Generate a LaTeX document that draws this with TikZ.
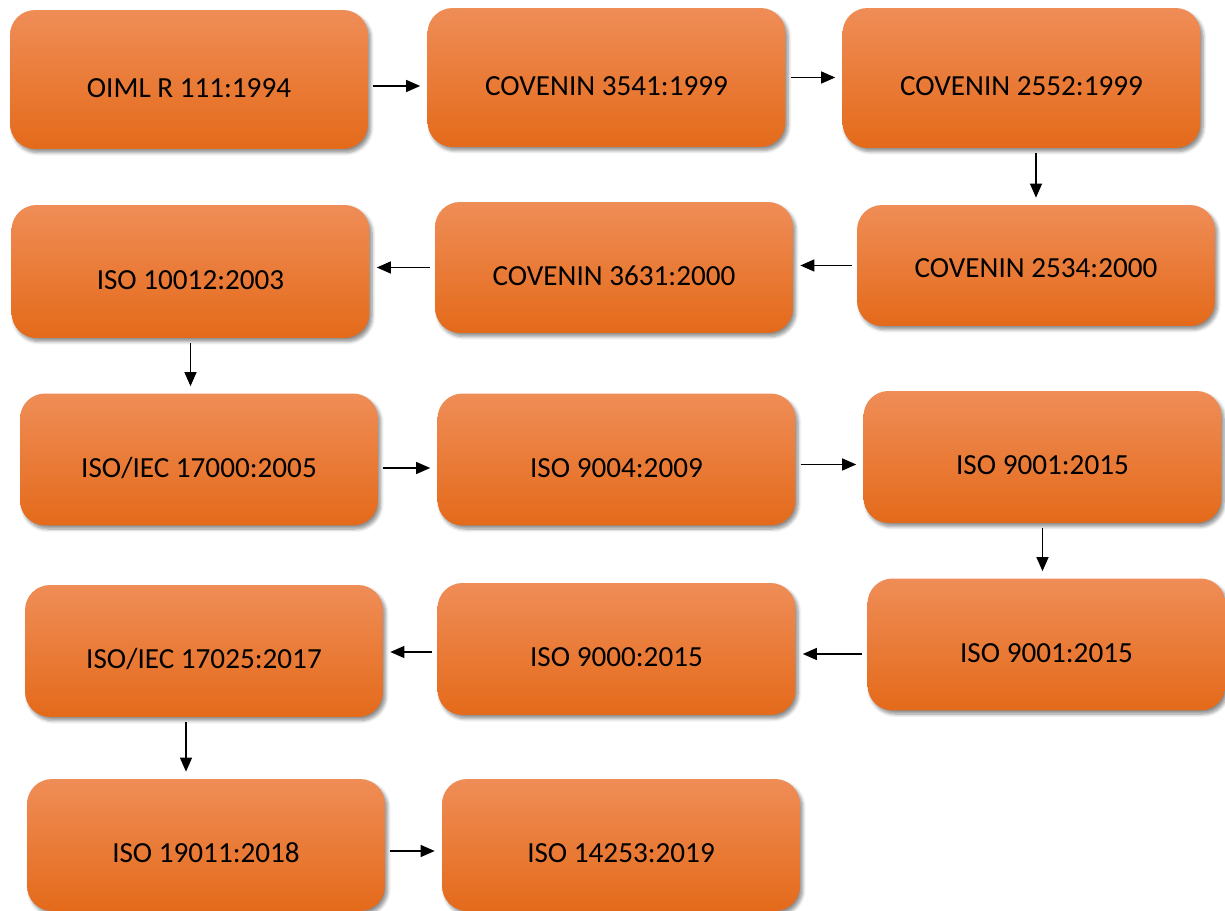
\documentclass[tikz,border=0pt]{standalone}
\usepackage{fontspec}
\setmainfont{Carlito}
\usetikzlibrary{arrows.meta,shadows.blur}

\definecolor{orTop}{HTML}{EF8D57}
\definecolor{orMid}{HTML}{F17A2C}
\definecolor{orBot}{HTML}{E46A1A}

\tikzset{
  normbox/.style={rounded corners=0.5cm, top color=orTop, middle color=orMid, bottom color=orBot,
    minimum width=7.16cm, minimum height=2.64cm, font=\fontsize{16.6}{19}\selectfont, text=black,
    text height=0.72cm, text depth=0cm,
    blur shadow={shadow xshift=1.5pt, shadow yshift=-2pt, shadow blur steps=6, shadow opacity=45}},
  arr/.style={-{Triangle[length=0.28cm,width=0.24cm]}, line width=0.7pt, shorten <=0.1cm, shorten >=0.14cm}
}

\begin{document}
\begin{tikzpicture}[x=0.02cm, y=-0.02cm]
  \useasboundingbox (0,0) rectangle (1225,911);
  %
  \node[normbox, minimum height=2.78cm] (oiml) at (189,79.5) {OIML R 111:1994};
  \node[normbox, minimum height=2.78cm] (cov3541) at (606.5,77.5) {COVENIN 3541:1999};
  \node[normbox, minimum height=2.8cm] (cov2552) at (1021.5,78) {COVENIN 2552:1999};
  %
  \node[normbox, minimum height=2.66cm] (iso10012) at (190.5,271.5) {ISO 10012:2003};
  \node[normbox, minimum height=2.62cm] (cov3631) at (614,267.5) {COVENIN 3631:2000};
  \node[normbox, minimum height=2.42cm, text height=0.5cm] (cov2534) at (1036,265.5) {COVENIN 2534:2000};
  %
  \node[normbox] (iec17000) at (199,459.5) {ISO/IEC 17000:2005};
  \node[normbox] (iso9004) at (616.5,459.5) {ISO 9004:2009};
  \node[normbox] (iso9001a) at (1042.5,457) {ISO 9001:2015};
  %
  \node[normbox] (iec17025) at (204,651) {ISO/IEC 17025:2017};
  \node[normbox] (iso9000) at (616.5,649) {ISO 9000:2015};
  \node[normbox] (iso9001b) at (1046.5,644.5) {ISO 9001:2015};
  %
  \node[normbox] (iso19011) at (206,845) {ISO 19011:2018};
  \node[normbox] (iso14253) at (621,845) {ISO 14253:2019};
  %
  \draw[arr] ([yshift=-0.13cm]oiml.east) -- ([yshift=-0.13cm]oiml.east -| cov3541.west);
  \draw[arr] (cov3541.east) -- (cov3541.east -| cov2552.west);
  \draw[arr] (cov2552.south -| cov2534.north) -- (cov2534.north);
  \draw[arr] (cov2534.west) -- (cov2534.west -| cov3631.east);
  \draw[arr] (cov3631.west) -- (cov3631.west -| iso10012.east);
  \draw[arr] (iso10012.south) -- (iso10012.south |- iec17000.north);
  \draw[arr] ([yshift=-0.17cm]iec17000.east) -- ([yshift=-0.17cm]iec17000.east -| iso9004.west);
  \draw[arr] ([yshift=-0.1cm]iso9004.east) -- ([yshift=-0.1cm]iso9004.east -| iso9001a.west);
  \draw[arr] (iso9001a.south) -- (iso9001a.south |- iso9001b.north);
  \draw[arr] ([yshift=-0.19cm]iso9001b.west) -- ([yshift=-0.19cm]iso9001b.west -| iso9000.east);
  \draw[arr] ([yshift=-0.06cm]iso9000.west) -- ([yshift=-0.06cm]iso9000.west -| iec17025.east);
  \draw[arr] ([xshift=-0.36cm]iec17025.south) -- ([xshift=-0.36cm]iec17025.south |- iso19011.north);
  \draw[arr] ([yshift=-0.12cm]iso19011.east) -- ([yshift=-0.12cm]iso19011.east -| iso14253.west);
\end{tikzpicture}
\end{document}
